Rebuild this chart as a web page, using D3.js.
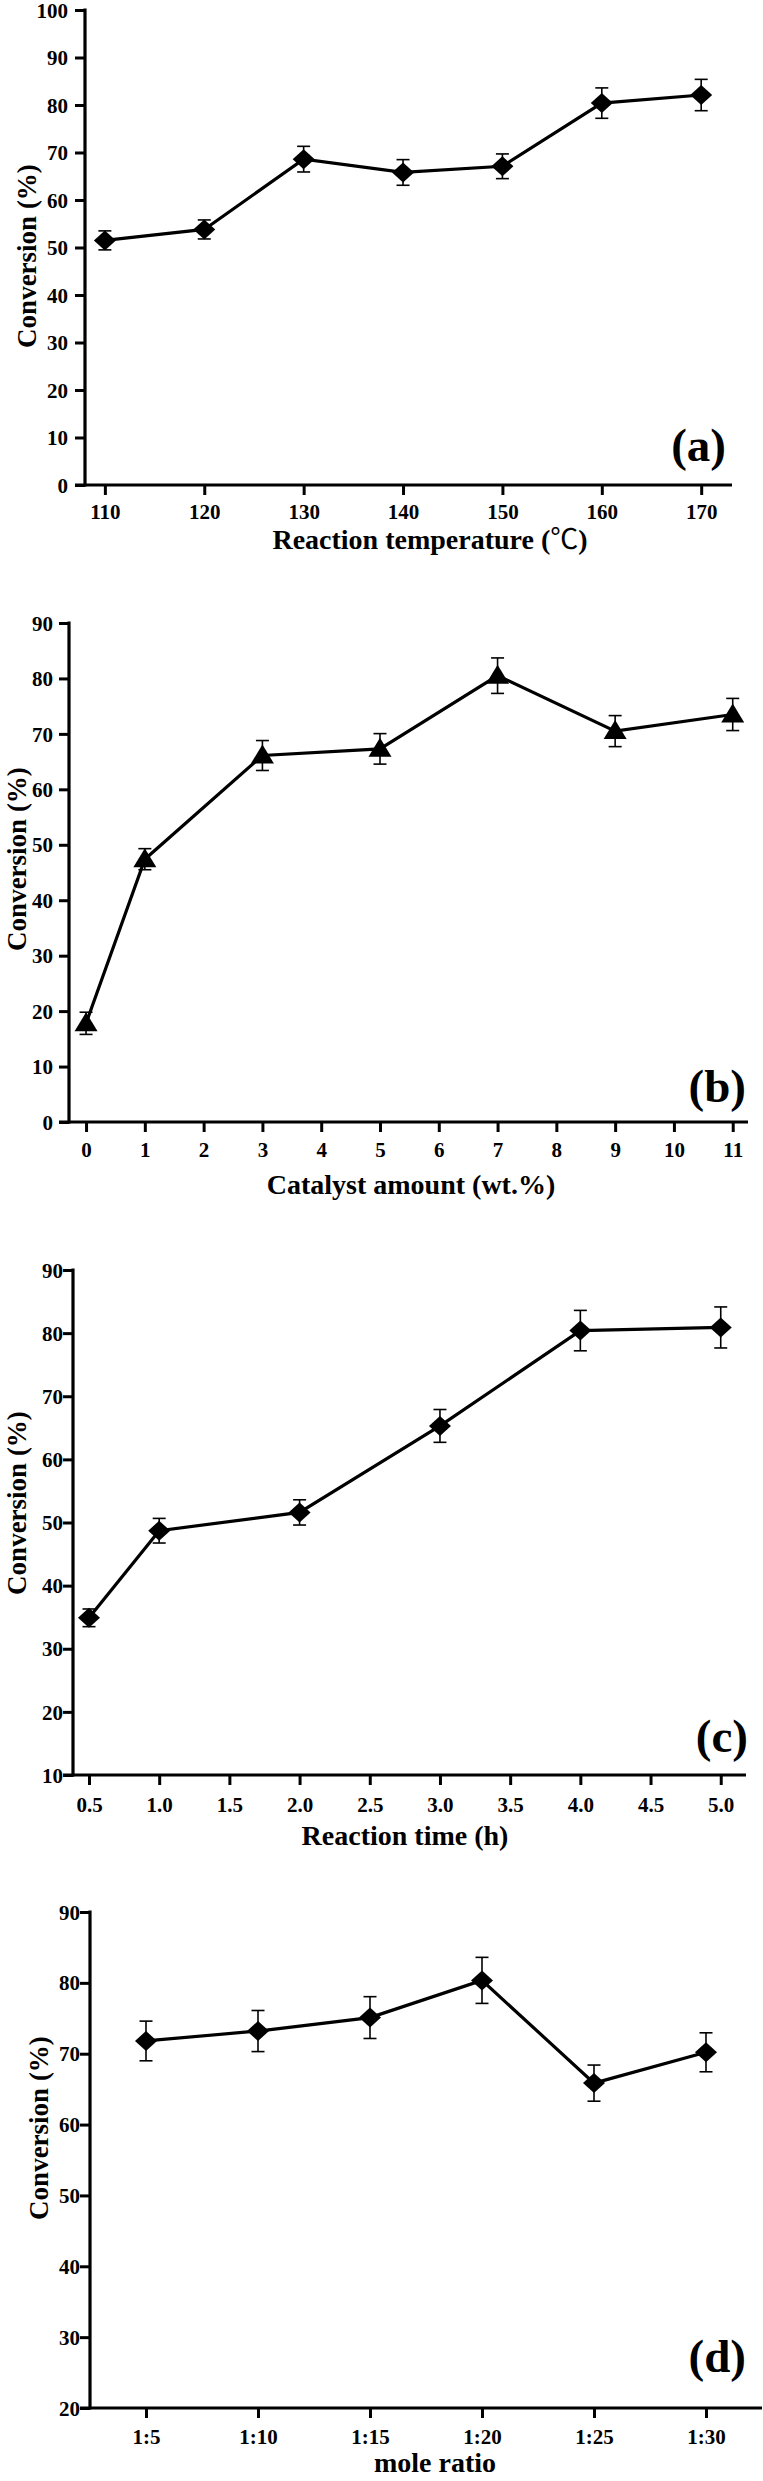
<!DOCTYPE html>
<html>
<head>
<meta charset="utf-8">
<script src="https://cdn.jsdelivr.net/npm/d3@7"></script>
<style>
  html, body { margin: 0; padding: 0; background: #fff; }
  svg { display: block; }
  text { font-family: "Liberation Serif", "Times New Roman", serif; font-weight: bold; fill: #000; }
</style>
</head>
<body>
<svg id="chart" width="763" height="2481"></svg>
<script>
// ---------- DATA ----------
// (a) Reaction temperature
const tempX = [110, 120, 130, 140, 150, 160, 170];
const tempY = [51.5, 53.8, 68.6, 65.8, 67.1, 80.4, 82.1];
const tempErr = [2.0, 2.0, 2.7, 2.7, 2.6, 3.2, 3.3];
const tempXTicks = [110, 120, 130, 140, 150, 160, 170];
const tempYTicks = [0, 10, 20, 30, 40, 50, 60, 70, 80, 90, 100];

// (b) Catalyst amount
const catX = [0, 1, 3, 5, 7, 9, 11];
const catY = [17.8, 47.4, 66.1, 67.3, 80.5, 70.5, 73.5];
const catErr = [2.0, 1.9, 2.7, 2.75, 3.2, 2.8, 2.9];
const catXTicks = [0, 1, 2, 3, 4, 5, 6, 7, 8, 9, 10, 11];
const catYTicks = [0, 10, 20, 30, 40, 50, 60, 70, 80, 90];

// (c) Reaction time
const timeX = [0.5, 1.0, 2.0, 3.0, 4.0, 5.0];
const timeY = [34.9, 48.7, 51.6, 65.3, 80.4, 80.9];
const timeErr = [1.4, 1.95, 2.0, 2.6, 3.2, 3.25];
const timeXTicks = [0.5, 1.0, 1.5, 2.0, 2.5, 3.0, 3.5, 4.0, 4.5, 5.0];
const timeYTicks = [10, 20, 30, 40, 50, 60, 70, 80, 90];

// (d) Mole ratio
const ratioX = ["1:5", "1:10", "1:15", "1:20", "1:25", "1:30"];
const ratioY = [71.8, 73.2, 75.1, 80.35, 65.85, 70.2];
const ratioErr = [2.8, 2.9, 2.95, 3.25, 2.55, 2.75];
const ratioYTicks = [20, 30, 40, 50, 60, 70, 80, 90];

// ---------- LAYOUT ----------
const panels = [
  { x: tempX, y: tempY, err: tempErr, xTicks: tempXTicks, yTicks: tempYTicks,
    xDomain: [108, 173.1], yDomain: [0, 100], left: 85, right: 732, top: 10, bottom: 485,
    marker: "diamond", fmt: d => d, yLabGap: 17,
    xTitle: "Reaction temperature ", unit: "\u2103)", xTitleX: 430, xTitleY: 549,
    yTitleX: 36, yTitleY: 256, tag: "(a)", tagX: 726, tagY: 461, xLabY: 519 },
  { x: catX, y: catY, err: catErr, xTicks: catXTicks, yTicks: catYTicks,
    xDomain: [-0.29, 11.26], yDomain: [0, 90], left: 69, right: 748, top: 623, bottom: 1122,
    marker: "triangle", fmt: d => d, yLabGap: 16,
    xTitle: "Catalyst amount (wt.%)", xTitleX: 411, xTitleY: 1194,
    yTitleX: 26, yTitleY: 859, tag: "(b)", tagX: 746, tagY: 1102, xLabY: 1157 },
  { x: timeX, y: timeY, err: timeErr, xTicks: timeXTicks, yTicks: timeYTicks,
    xDomain: [0.386, 5.18], yDomain: [10, 90], left: 73, right: 746, top: 1270, bottom: 1775,
    marker: "diamond", fmt: d3.format(".1f"), yLabGap: 10,
    xTitle: "Reaction time (h)", xTitleX: 405, xTitleY: 1845,
    yTitleX: 26, yTitleY: 1503, tag: "(c)", tagX: 748, tagY: 1752, xLabY: 1812 },
  { x: ratioX, y: ratioY, err: ratioErr, xTicks: ratioX, yTicks: ratioYTicks,
    categorical: true, yDomain: [20, 90], left: 90, right: 762, top: 1912, bottom: 2408,
    marker: "diamond", fmt: d => d, yLabGap: 10,
    xTitle: "mole ratio", xTitleX: 435, xTitleY: 2472,
    yTitleX: 48, yTitleY: 2128, tag: "(d)", tagX: 746, tagY: 2372, xLabY: 2444 }
];

const svg = d3.select("#chart");

panels.forEach(p => {
  const g = svg.append("g");
  const xs = p.categorical
    ? d3.scalePoint().domain(p.x).range([p.left, p.right]).padding(0.5)
    : d3.scaleLinear().domain(p.xDomain).range([p.left, p.right]);
  const ys = d3.scaleLinear().domain(p.yDomain).range([p.bottom, p.top]);
  const tickLen = 10;

  // axis lines
  g.append("line").attr("x1", p.left - tickLen).attr("x2", p.right)
    .attr("y1", p.bottom).attr("y2", p.bottom)
    .attr("stroke", "#000").attr("stroke-width", 3.2);
  g.append("line").attr("x1", p.left).attr("x2", p.left)
    .attr("y1", p.bottom + 1.6).attr("y2", ys(p.yDomain[1]) - 1.5)
    .attr("stroke", "#000").attr("stroke-width", 3.2);

  // x axis ticks + labels
  const xAxis = d3.axisBottom(xs).tickValues(p.xTicks).tickSize(tickLen).tickSizeOuter(0)
    .tickFormat(p.fmt);
  const gx = g.append("g").attr("transform", `translate(0,${p.bottom})`).call(xAxis);
  gx.select(".domain").remove();
  gx.selectAll(".tick line").attr("stroke", "#000").attr("stroke-width", 3);
  gx.selectAll(".tick text").attr("y", p.xLabY - p.bottom).attr("dy", 0)
    .style("font-size", "21px").style("font-family", "Liberation Serif").style("font-weight", "bold");

  // y axis ticks + labels
  const yAxis = d3.axisLeft(ys).tickValues(p.yTicks).tickSize(tickLen).tickSizeOuter(0);
  const gy = g.append("g").attr("transform", `translate(${p.left},0)`).call(yAxis);
  gy.select(".domain").remove();
  gy.selectAll(".tick line").attr("stroke", "#000").attr("stroke-width", 3);
  gy.selectAll(".tick text").attr("x", -p.yLabGap).attr("dy", "0.34em")
    .style("font-size", "21px").style("font-family", "Liberation Serif").style("font-weight", "bold");

  const pts = p.x.map((xv, i) => ({ x: xv, y: p.y[i], e: p.err[i] }));

  // error bars
  const eb = g.append("g").attr("stroke", "#000").attr("stroke-width", 1.6).attr("fill", "none");
  pts.forEach(d => {
    const cx = xs(d.x), y1 = ys(d.y + d.e), y2 = ys(d.y - d.e);
    eb.append("line").attr("x1", cx).attr("x2", cx).attr("y1", y1).attr("y2", y2);
    eb.append("line").attr("x1", cx - 6.5).attr("x2", cx + 6.5).attr("y1", y1).attr("y2", y1);
    eb.append("line").attr("x1", cx - 6.5).attr("x2", cx + 6.5).attr("y1", y2).attr("y2", y2);
  });

  // line
  g.append("path").datum(pts)
    .attr("d", d3.line().x(d => xs(d.x)).y(d => ys(d.y)))
    .attr("fill", "none").attr("stroke", "#000").attr("stroke-width", 3.2);

  // markers
  const mk = p.marker === "triangle"
    ? "M0,-11 L11.5,8 L-11.5,8 Z"
    : "M0,-10 L11,0 L0,10 L-11,0 Z";
  g.selectAll(".mk").data(pts).enter().append("path")
    .attr("d", mk).attr("fill", "#000")
    .attr("transform", d => `translate(${xs(d.x)},${ys(d.y)})`);

  // titles
  const xt = g.append("text").attr("x", p.xTitleX).attr("y", p.xTitleY)
    .attr("text-anchor", "middle").style("font-size", "28px");
  if (p.unit) {
    xt.append("tspan").text(p.xTitle + "(");
    xt.append("tspan").text("\u2103").style("font-family", "'Noto Sans CJK SC'").style("font-weight", "normal");
    xt.append("tspan").text(")");
  } else {
    xt.text(p.xTitle);
  }
  g.append("text").attr("transform", `translate(${p.yTitleX},${p.yTitleY}) rotate(-90)`)
    .attr("text-anchor", "middle").style("font-size", "27px").text("Conversion (%)");

  g.append("text").attr("x", p.tagX).attr("y", p.tagY).attr("text-anchor", "end")
    .style("font-size", "47px").text(p.tag);
});
</script>
</body>
</html>
